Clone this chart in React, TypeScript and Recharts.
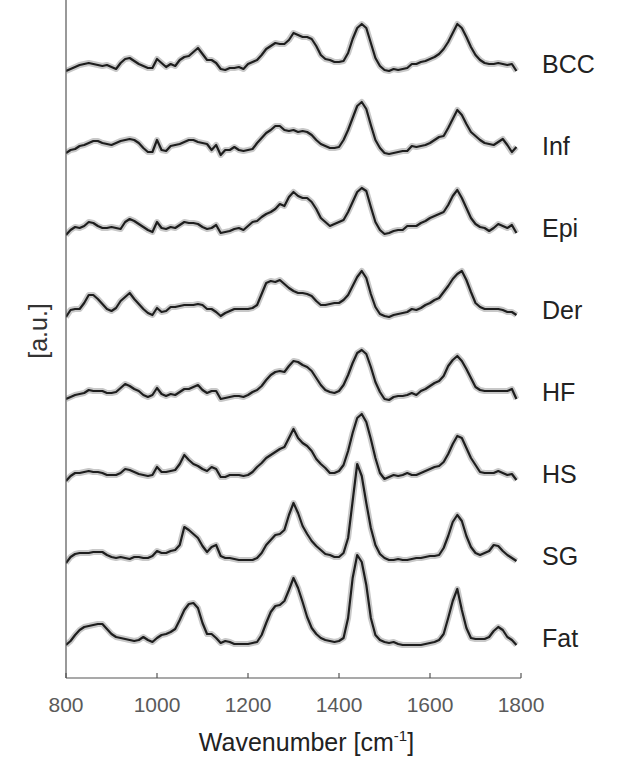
import { Label, Line, LineChart, XAxis, YAxis } from "recharts";

document.body.style.margin = "0";

const FONT = "'Liberation Sans', Arial, sans-serif";

// Tissue classes, top to bottom, and the vertical offset of each trace.
const NAMES = ["BCC", "Inf", "Epi", "Der", "HF", "HS", "SG", "Fat"];
const OFFSETS = [607, 525, 443, 361, 279, 197, 115, 33];
const X_TICKS = [800, 1000, 1200, 1400, 1600, 1800];

// Spectra sampled every 10 cm-1 from 800 to 1790 (a.u., above each baseline).
const START = 800;
const STEP = 10;

const BCC = [
  0, 2, 4, 6, 7, 8, 7, 6, 5, 6,
  4, 2, 8, 12, 13, 10, 7, 5, 3, 3,
  12, 8, 4, 7, 5, 11, 14, 15, 19, 23,
  17, 11, 11, 8, 2, 1, 3, 3, 4, 2,
  7, 9, 11, 16, 22, 25, 28, 27, 27, 31,
  38, 36, 34, 34, 32, 25, 16, 12, 11, 9,
  9, 10, 18, 32, 43, 47, 43, 28, 13, 5,
  1, 0, 2, 1, 2, 3, 7, 7, 9, 10,
  12, 14, 17, 22, 29, 38, 47, 43, 34, 24,
  16, 11, 8, 7, 7, 8, 7, 6, 7, 0,
];
const INF = [
  0, 3, 4, 7, 8, 10, 12, 12, 10, 9,
  8, 10, 12, 13, 14, 13, 10, 5, 1, 1,
  13, 3, 2, 7, 8, 9, 11, 13, 13, 11,
  10, 9, 3, 8, -2, 3, 3, 6, 3, 2,
  3, 4, 10, 15, 20, 23, 27, 27, 23, 22,
  23, 21, 22, 21, 18, 13, 9, 7, 5, 5,
  6, 13, 23, 35, 47, 51, 44, 28, 13, 5,
  0, -1, 0, 1, 2, 2, 7, 6, 7, 8,
  10, 13, 16, 17, 25, 34, 43, 38, 29, 21,
  17, 13, 10, 9, 8, 11, 14, 8, 1, 6,
];
const EPI = [
  0, 5, 8, 7, 9, 13, 12, 9, 7, 7,
  8, 7, 6, 13, 16, 14, 11, 8, 5, 3,
  13, 7, 6, 8, 7, 10, 13, 12, 12, 11,
  8, 6, 7, 10, 2, 3, 4, 6, 7, 5,
  9, 13, 14, 18, 21, 23, 26, 31, 29, 38,
  43, 39, 37, 37, 33, 26, 17, 13, 9, 11,
  13, 15, 23, 33, 43, 47, 44, 28, 13, 5,
  1, 2, 4, 5, 5, 9, 9, 9, 12, 14,
  17, 19, 21, 23, 30, 39, 45, 37, 27, 17,
  11, 8, 7, 4, 7, 11, 9, 7, 10, 2,
];
const DER = [
  0, 7, 8, 8, 14, 22, 22, 18, 13, 8,
  6, 9, 16, 20, 24, 18, 13, 8, 4, 2,
  9, 5, 6, 10, 10, 11, 12, 12, 12, 13,
  12, 8, 8, 5, 1, 4, 6, 8, 8, 8,
  8, 9, 12, 23, 34, 36, 35, 37, 33, 29,
  26, 24, 24, 23, 21, 16, 12, 12, 13, 14,
  14, 17, 22, 31, 40, 46, 39, 23, 10, 3,
  1, 0, 2, 3, 4, 5, 8, 7, 9, 12,
  14, 17, 19, 25, 31, 38, 43, 46, 37, 25,
  14, 10, 8, 8, 8, 8, 7, 5, 5, 2,
];
const HF = [
  0, 2, 4, 5, 6, 9, 8, 8, 8, 6,
  6, 7, 11, 15, 13, 10, 8, 4, 2, 4,
  11, 5, 3, 5, 4, 7, 10, 10, 12, 14,
  9, 6, 8, 8, 0, 1, 2, 3, 3, 2,
  4, 7, 9, 13, 19, 24, 27, 28, 27, 33,
  38, 37, 34, 32, 28, 21, 14, 9, 7, 6,
  8, 14, 24, 36, 46, 49, 45, 32, 17, 7,
  0, -1, 2, 3, 3, 4, 6, 4, 8, 10,
  13, 16, 18, 23, 33, 39, 43, 38, 30, 21,
  12, 9, 8, 8, 8, 8, 8, 8, 10, 0,
];
const HS = [
  0, 5, 8, 8, 9, 10, 9, 9, 8, 6,
  6, 6, 8, 12, 11, 9, 7, 6, 5, 6,
  14, 9, 9, 10, 11, 17, 26, 21, 17, 15,
  12, 10, 14, 12, 4, 4, 6, 6, 6, 5,
  6, 9, 14, 18, 23, 26, 29, 32, 34, 43,
  52, 43, 38, 35, 30, 22, 17, 13, 8, 8,
  10, 16, 30, 48, 63, 67, 59, 42, 23, 8,
  2, 4, 6, 5, 6, 8, 6, 6, 8, 10,
  12, 14, 15, 19, 27, 37, 45, 43, 33, 23,
  16, 9, 8, 8, 8, 10, 8, 6, 7, 1,
];
const SG = [
  0, 6, 9, 10, 10, 10, 11, 11, 11, 8,
  6, 5, 6, 5, 4, 6, 6, 5, 5, 7,
  12, 10, 10, 12, 13, 18, 36, 33, 29, 25,
  17, 11, 16, 18, 7, 5, 5, 4, 3, 3,
  3, 3, 5, 10, 18, 23, 28, 29, 33, 48,
  60, 50, 37, 29, 22, 17, 13, 9, 8, 6,
  6, 10, 25, 62, 99, 87, 60, 35, 18, 9,
  5, 3, 3, 4, 3, 3, 4, 5, 5, 6,
  7, 7, 8, 15, 27, 41, 48, 42, 27, 16,
  10, 8, 10, 12, 18, 17, 12, 8, 5, 2,
];
const FAT = [
  0, 4, 10, 15, 18, 19, 20, 21, 21, 16,
  11, 8, 7, 6, 5, 4, 5, 8, 5, 3,
  7, 10, 11, 13, 16, 25, 35, 41, 42, 37,
  22, 11, 11, 7, 2, 4, 3, 1, 1, 1,
  1, 2, 3, 10, 22, 33, 39, 40, 44, 55,
  67, 57, 43, 28, 17, 11, 7, 5, 4, 3,
  4, 7, 27, 67, 90, 83, 60, 27, 10, 5,
  3, 2, 3, 1, 0, 0, 0, 0, 0, 1,
  2, 3, 5, 11, 27, 44, 56, 35, 17, 7,
  6, 6, 6, 8, 14, 18, 15, 8, 5, 0,
];

const SPECTRA = [BCC, INF, EPI, DER, HF, HS, SG, FAT];

const rows = BCC.map((_, i) => {
  const row: Record<string, number> = { w: START + STEP * i };
  NAMES.forEach((name, k) => {
    row[name] = OFFSETS[k] + SPECTRA[k][i];
  });
  return row;
});

// Tick marks point up into the plot; labels sit below the axis.
function WaveTick({ x, y, payload }: any) {
  return (
    <g>
      <line x1={x} x2={x} y1={y} y2={y - 5} stroke="#555" strokeWidth={1.2} />
      <text
        x={x}
        y={y + 34}
        textAnchor="middle"
        fill="#5a5a5a"
        fontSize={21}
        fontFamily={FONT}
      >
        {payload.value}
      </text>
    </g>
  );
}

function NameTick({ x, y, payload }: any) {
  const k = OFFSETS.indexOf(payload.value);
  return (
    <text x={x} y={y + 2} fill="#222" fontSize={25} fontFamily={FONT}>
      {NAMES[k]}
    </text>
  );
}

function XTitle({ viewBox }: any) {
  const cx = viewBox.x + viewBox.width / 2 + 13;
  return (
    <text
      x={cx}
      y={viewBox.y + 73}
      textAnchor="middle"
      fill="#222"
      fontSize={25}
      fontFamily={FONT}
    >
      Wavenumber [cm
      <tspan dy={-10} fontSize={15}>
        -1
      </tspan>
      <tspan dy={10}>]</tspan>
    </text>
  );
}

function YTitle({ viewBox }: any) {
  const cx = viewBox.x + 38;
  const cy = viewBox.y + viewBox.height / 2 - 8;
  return (
    <text
      x={cx}
      y={cy}
      transform={`rotate(-90, ${cx}, ${cy})`}
      textAnchor="middle"
      dominantBaseline="central"
      fill="#333"
      fontSize={25}
      fontFamily={FONT}
    >
      [a.u.]
    </text>
  );
}

export default function App() {
  return (
    <LineChart
      width={620}
      height={772}
      data={rows}
      margin={{ top: 0, right: 0, left: 0, bottom: 0 }}
    >
      <XAxis
        dataKey="w"
        type="number"
        domain={[800, 1800]}
        ticks={X_TICKS}
        interval={0}
        height={94}
        tickSize={0}
        tickMargin={0}
        tickLine={false}
        axisLine={{ stroke: "#555", strokeWidth: 1.2 }}
        tick={<WaveTick />}
        allowDataOverflow
      >
        <Label content={<XTitle />} />
      </XAxis>
      <YAxis
        yAxisId="left"
        type="number"
        domain={[0, 678]}
        width={66}
        tick={false}
        tickLine={false}
        axisLine={{ stroke: "#555", strokeWidth: 1.2 }}
        allowDataOverflow
      >
        <Label content={<YTitle />} />
      </YAxis>
      <YAxis
        yAxisId="right"
        orientation="right"
        type="number"
        domain={[0, 678]}
        width={99}
        ticks={OFFSETS}
        interval={0}
        tickSize={0}
        tickMargin={21}
        tickLine={false}
        axisLine={false}
        tick={<NameTick />}
        allowDataOverflow
      />
      {NAMES.map((name) => (
        <Line
          key={`${name}-band`}
          yAxisId="left"
          dataKey={name}
          type="linear"
          stroke="#c8c8c8"
          strokeWidth={6}
          strokeLinejoin="round"
          dot={false}
          activeDot={false}
          isAnimationActive={false}
        />
      ))}
      {NAMES.map((name) => (
        <Line
          key={name}
          yAxisId="left"
          dataKey={name}
          type="linear"
          stroke="#1e1e1e"
          strokeWidth={2.2}
          strokeLinejoin="round"
          dot={false}
          activeDot={false}
          isAnimationActive={false}
        />
      ))}
    </LineChart>
  );
}
